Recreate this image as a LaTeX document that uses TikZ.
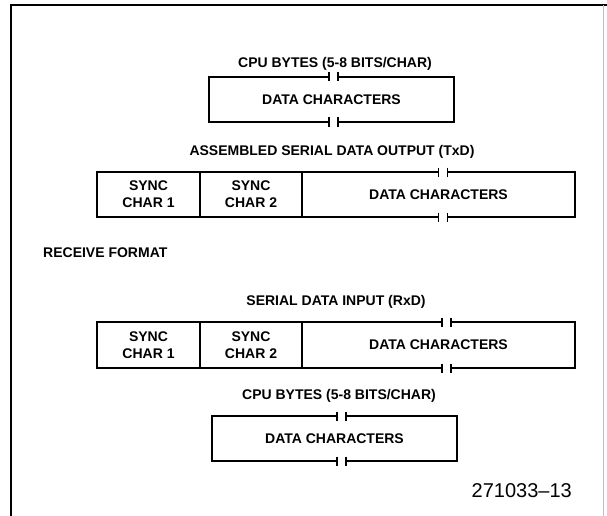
\documentclass[tikz,border=0pt]{standalone}
\usepackage{fontspec}
\setmainfont{Liberation Sans}
\usetikzlibrary{positioning}

\tikzset{
  lbl/.style={font=\bfseries\fontsize{14}{17}\selectfont, inner sep=0pt},
  cell/.style={lbl, align=center, minimum height=45pt, outer sep=0pt},
  edge/.style={line width=2.8pt},
  tick/.style={line width=1.8pt},
}

\newcommand{\gapbox}[3]{%
  \draw[edge] ([xshift=-4.5pt]#3 |- #1.north) -- (#1.north west) -- (#1.south west) -- ([xshift=-4.5pt]#3 |- #1.south);
  \draw[edge] ([xshift=4.5pt]#3 |- #2.south) -- (#2.south east) -- (#2.north east) -- ([xshift=4.5pt]#3 |- #2.north);
  \foreach \a in {north,south}{\foreach \s in {-4.5,4.5}{
    \draw[tick] ([xshift=\s pt,yshift=4.5pt]#3 |- #2.\a) -- ([xshift=\s pt,yshift=-4.5pt]#3 |- #2.\a);}}
}

\begin{document}
\begin{tikzpicture}[x=1pt,y=-1pt,node distance=0pt]
\useasboundingbox (0,0) rectangle (607,516);
\draw[line width=2.2pt] (11,516) -- (11,5) -- (607,5);
\draw[line width=1pt,black!25] (603,5) -- (603,516);

\node[lbl] (cpuTop) at (335,64) {CPU BYTES (5-8 BITS/CHAR)};
\node[cell, minimum width=245pt] (dataA) at (331.5,99.5) {DATA CHARACTERS};
\node[lbl] (txd) at (332,152) {ASSEMBLED SERIAL DATA OUTPUT (TxD)};
\node[cell, minimum width=103pt] (syncA1) at (148.5,194.5) {SYNC\\CHAR 1};
\node[cell, minimum width=102pt, right=of syncA1] (syncA2) {SYNC\\CHAR 2};
\node[cell, minimum width=273pt, right=of syncA2] (dataB) {DATA CHARACTERS};

\node[lbl, anchor=west] (rcv) at (43,253) {RECEIVE FORMAT};
\node[lbl] (rxd) at (336,302) {SERIAL DATA INPUT (RxD)};
\node[cell, minimum width=103pt, minimum height=46pt] (syncB1) at (148.5,345) {SYNC\\CHAR 1};
\node[cell, minimum width=102pt, minimum height=46pt, right=of syncB1] (syncB2) {SYNC\\CHAR 2};
\node[cell, minimum width=273pt, minimum height=46pt, right=of syncB2] (dataC) {DATA CHARACTERS};
\node[lbl] (cpuBot) at (339,396) {CPU BYTES (5-8 BITS/CHAR)};
\node[cell, minimum width=245pt] (dataD) at (334.5,438.5) {DATA CHARACTERS};
\node[font=\fontsize{20}{24}\selectfont, inner sep=0pt, anchor=east] (figno) at (572,491) {271033--13};

\coordinate (gA) at (333.5,0);
\coordinate (gB) at (443,0);
\coordinate (gC) at (446.5,0);
\coordinate (gD) at (341.5,0);

\gapbox{dataA}{dataA}{gA}
\gapbox{syncA1}{dataB}{gB}
\gapbox{syncB1}{dataC}{gC}
\gapbox{dataD}{dataD}{gD}
\draw[edge] (syncA1.north east) -- (syncA1.south east) (syncA2.north east) -- (syncA2.south east);
\draw[edge] (syncB1.north east) -- (syncB1.south east) (syncB2.north east) -- (syncB2.south east);
\end{tikzpicture}
\end{document}
